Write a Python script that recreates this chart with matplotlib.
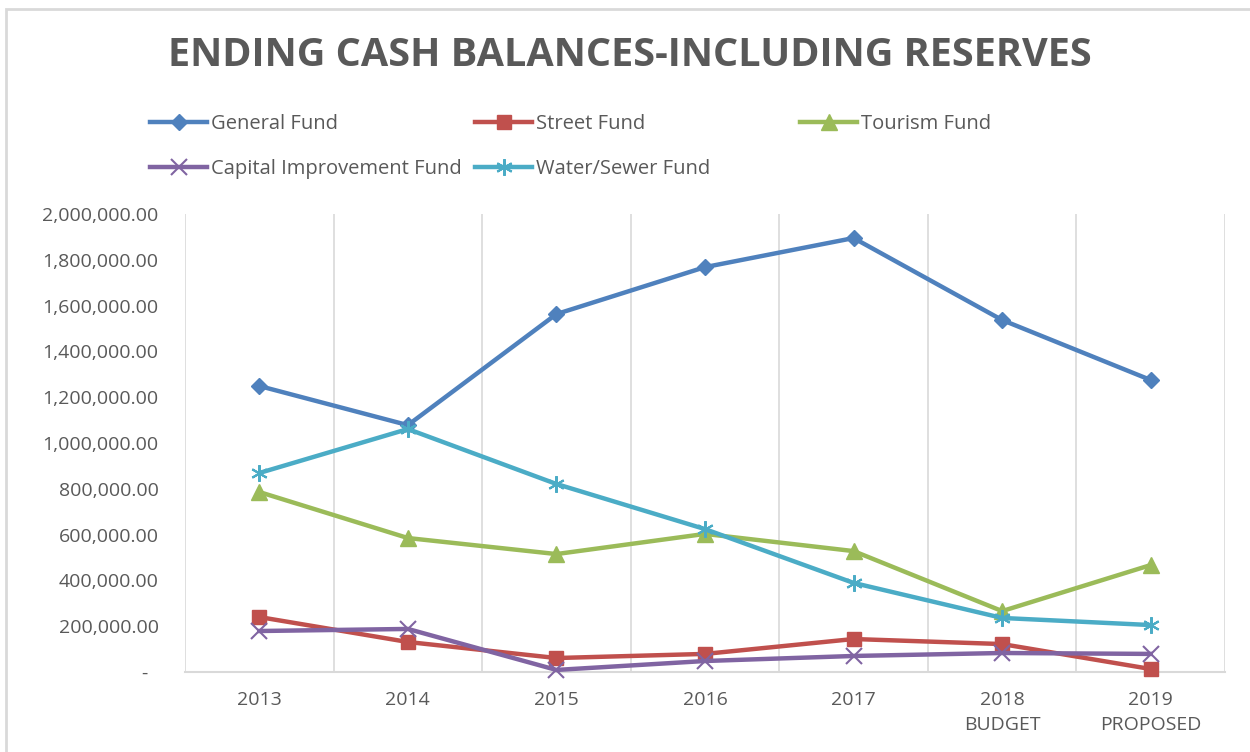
import matplotlib.pyplot as plt
from matplotlib.patches import Rectangle

plt.rcParams['font.family'] = ['Open Sans', 'DejaVu Sans']

# data
years = ['2013', '2014', '2015', '2016', '2017', '2018\nBUDGET', '2019\nPROPOSED']
general = [1249000, 1078000, 1563000, 1768000, 1895000, 1537000, 1275000]
street = [240000, 131000, 61000, 79000, 144000, 122000, 13000]
tourism = [786000, 585000, 515000, 603000, 528000, 266000, 467000]
capital = [179000, 188000, 9000, 48000, 70000, 83000, 79000]
water = [869000, 1061000, 821000, 624000, 389000, 236000, 205000]

names = ['General Fund', 'Street Fund', 'Tourism Fund',
         'Capital Improvement Fund', 'Water/Sewer Fund']
series = [general, street, tourism, capital, water]
colors = ['#4F81BD', '#C0504D', '#9BBB59', '#8064A2', '#4BACC6']
markers = ['D', 's', '^', 'x', (6, 2, 0)]
msizes = [8, 10, 11, 11, 12]

txt = '#595959'
grid = '#D9D9D9'

fig = plt.figure(figsize=(12.5, 7.52), dpi=100)
ax = fig.add_axes([185/1250, 1-672/752, 1040/1250, 458/752])

x = list(range(len(years)))
handles = []
for vals, c, m, ms in zip(series, colors, markers, msizes):
    h, = ax.plot(x, vals, color=c, lw=3.2, marker=m, markersize=ms,
                 markeredgewidth=1.5 if m in ('x', (6, 2, 0)) else 1,
                 markeredgecolor=c, markerfacecolor=c, zorder=3,
                 solid_joinstyle='round', clip_on=False)
    handles.append(h)

ax.set_xlim(-0.5, len(years)-0.5)
ax.set_ylim(0, 2000000)
ax.set_yticks(range(0, 2000001, 200000))
ax.yaxis.set_major_formatter(lambda v, p: '-  ' if v == 0 else f'{v:,.2f}')
ax.set_xticks(x)
ax.set_xticklabels(years, linespacing=1.45)

# category boundary gridlines
for b in range(len(years)+1):
    ax.axvline(b-0.5, color=grid, lw=1.2, zorder=1)
for s in ['top', 'right', 'left']:
    ax.spines[s].set_visible(False)
ax.spines['bottom'].set_color(grid)
ax.spines['bottom'].set_linewidth(1.5)
ax.tick_params(axis='both', length=0, colors=txt, labelsize=14)
ax.tick_params(axis='y', pad=19)
ax.tick_params(axis='x', pad=14)

fig.text(0.504, 1-56/752, 'ENDING CASH BALANCES-INCLUDING RESERVES',
         ha='center', va='center', fontsize=28.5, fontweight='bold', color=txt)

# legend entries placed like the Excel layout
pos = [(150, 124), (475, 124), (800, 124), (150, 169), (475, 169)]
for h, n, (px, py) in zip(handles, names, pos):
    lg = fig.legend([h], [n], loc='center left',
                    bbox_to_anchor=(px/1250, 1-py/752), frameon=False,
                    borderpad=0, borderaxespad=0, handlelength=2.85,
                    handletextpad=0.2, fontsize=14.5, labelcolor=txt)

# outer chart border
fig.patches.append(Rectangle((6/1250, -0.1), 1.2, 1.1-9/752, transform=fig.transFigure,
                             fill=False, edgecolor=grid, lw=2))

fig.savefig('out.png', dpi=100)
